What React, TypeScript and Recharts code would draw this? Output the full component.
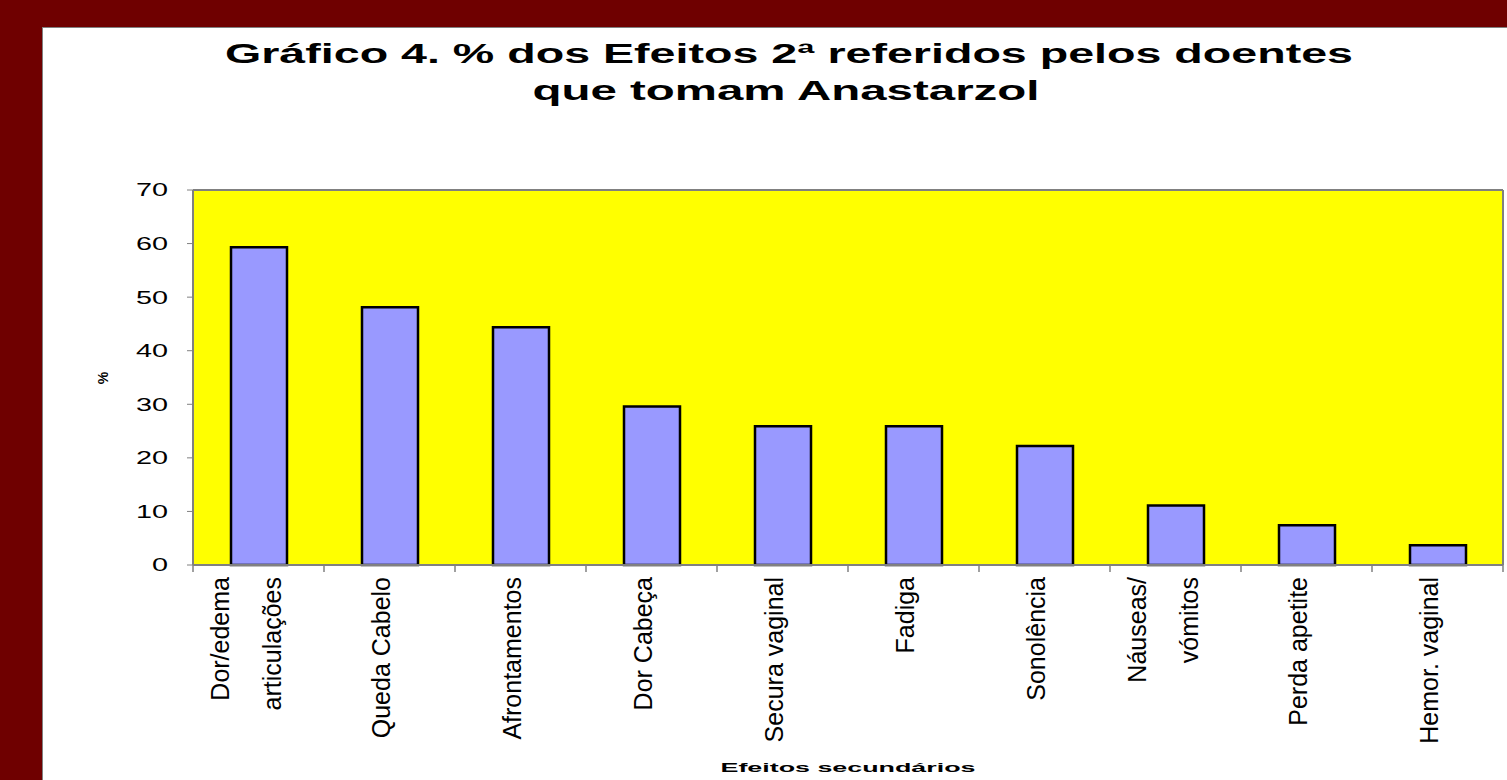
import { BarChart, Bar, XAxis, YAxis, CartesianGrid, Label } from "recharts"

const categories = [
  "Dor/edema\narticulações",
  "Queda Cabelo",
  "Afrontamentos",
  "Dor Cabeça",
  "Secura vaginal",
  "Fadiga",
  "Sonolência",
  "Náuseas/\nvómitos",
  "Perda apetite",
  "Hemor. vaginal",
]

const percentages = [59.3, 48.1, 44.4, 29.6, 25.9, 25.9, 22.2, 11.1, 7.4, 3.7]

const yTicks = [0, 10, 20, 30, 40, 50, 60, 70]

const data = categories.map((name, i) => ({ name, value: percentages[i] }))

const BAND = 131

function XTick(props: any) {
  const { x, y, payload, index } = props
  const lines: string[] = String(payload.value).split("\n")
  const offsets = lines.length === 1 ? [0] : [-30, 22]
  return (
    <g>
      <line x1={x - BAND / 2} x2={x - BAND / 2} y1={565} y2={572} stroke="#808080" strokeWidth={1.5} />
      {index === categories.length - 1 && (
        <line x1={x + BAND / 2} x2={x + BAND / 2} y1={565} y2={572} stroke="#808080" strokeWidth={1.5} />
      )}
      <g transform={`translate(${x},${y + 4}) rotate(-90)`}>
        {lines.map((t, i) => (
          <text
            key={i}
            x={0}
            y={offsets[i]}
            textAnchor="end"
            fontFamily="'Liberation Sans', Arial, sans-serif"
            fontSize={25}
            fill="#000"
          >
            {t}
          </text>
        ))}
      </g>
    </g>
  )
}

function YTick(props: any) {
  const { x, y, payload } = props
  return (
    <g transform={`translate(${x},${y}) scale(1.6,1)`}>
      <text x={0} y={0} dy="0.36em" textAnchor="end" fontFamily="'Liberation Sans', Arial, sans-serif" fontSize={18} fill="#000">
        {payload.value}
      </text>
    </g>
  )
}

export default function App() {
  return (
    <div style={{ position: "fixed", left: 0, top: 0, width: 1507, height: 780, background: "#6f0000", overflow: "hidden" }}>
      <div
        style={{
          position: "absolute",
          left: 42,
          top: 27,
          right: 0,
          bottom: 0,
          background: "#fff",
          borderLeft: "1px solid #808080",
          borderTop: "1px solid #808080",
        }}
      />
      <svg style={{ position: "absolute", left: 0, top: 0 }} width={1507} height={120}>
        <text
          x={789}
          y={63}
          textAnchor="middle"
          fontFamily="'Liberation Sans', Arial, sans-serif"
          fontWeight="bold"
          fontSize={28}
          textLength={1128}
          lengthAdjust="spacingAndGlyphs"
        >
          Gráfico 4. % dos Efeitos 2ª referidos pelos doentes
        </text>
        <text
          x={786}
          y={100}
          textAnchor="middle"
          fontFamily="'Liberation Sans', Arial, sans-serif"
          fontWeight="bold"
          fontSize={28}
          textLength={507}
          lengthAdjust="spacingAndGlyphs"
        >
          que tomam Anastarzol
        </text>
      </svg>
      <div style={{ position: "absolute", left: 0, top: 0 }}>
        <BarChart width={1507} height={780} data={data} margin={{ top: 190, right: 4, bottom: 0, left: 0 }}>
          <CartesianGrid
            fill="#FFFF00"
            stroke="#808080"
            strokeWidth={2}
            horizontalCoordinatesGenerator={({ offset }: any) => [offset.top, offset.top + offset.height]}
            verticalCoordinatesGenerator={({ offset }: any) => [offset.left, offset.left + offset.width]}
          />
          <XAxis
            dataKey="name"
            interval={0}
            height={215}
            tickLine={false}
            axisLine={{ stroke: "#808080", strokeWidth: 2 }}
            tick={<XTick />}
          >
            <Label
              content={({ viewBox }: any) => (
                <text
                  x={viewBox.x + viewBox.width / 2}
                  y={viewBox.y + 207}
                  textAnchor="middle"
                  fontFamily="'Liberation Sans', Arial, sans-serif"
                  fontWeight="bold"
                  fontSize={13}
                  textLength={255}
                  lengthAdjust="spacingAndGlyphs"
                >
                  Efeitos secundários
                </text>
              )}
            />
          </XAxis>
          <YAxis
            width={193}
            domain={[0, 70]}
            ticks={yTicks}
            tickSize={6}
            tickMargin={19}
            tickLine={{ stroke: "#808080" }}
            axisLine={{ stroke: "#808080", strokeWidth: 2 }}
            tick={<YTick />}
          >
            <Label
              content={() => (
                <text
                  transform="translate(108,378) rotate(-90)"
                  textAnchor="middle"
                  fontFamily="'Liberation Sans', Arial, sans-serif"
                  fontWeight="bold"
                  fontSize={14}
                >
                  %
                </text>
              )}
            />
          </YAxis>
          <Bar dataKey="value" fill="#9999FF" stroke="#000" strokeWidth={2.5} barSize={56} isAnimationActive={false} />
        </BarChart>
      </div>
    </div>
  )
}
